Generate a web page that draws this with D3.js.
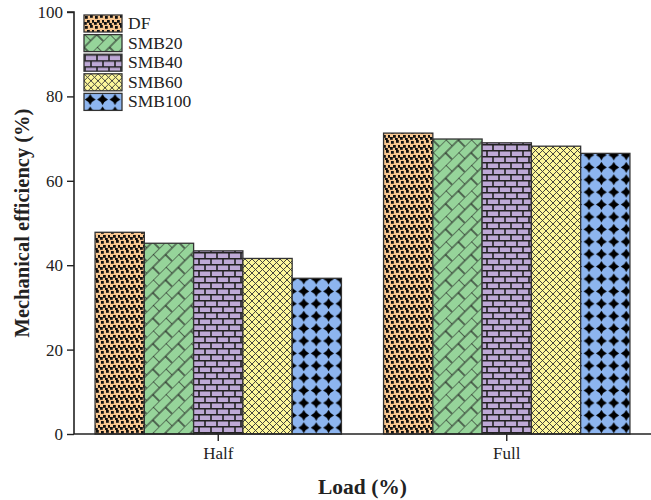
<!DOCTYPE html>
<html>
<head>
<meta charset="utf-8">
<script src="https://cdn.jsdelivr.net/npm/d3@7"></script>
<style>
  body { margin: 0; background: #fff; }
  text { font-family: "Liberation Serif", "Times New Roman", serif; fill: #222; }
</style>
</head>
<body>
<div id="chart"></div>
<script>
var width = 651;
var height = 500;
var margin = { top: 12, right: 0, bottom: 66, left: 74 };

// data
var loads = ["Half", "Full"];
var series = ["DF", "SMB20", "SMB40", "SMB60", "SMB100"];
var halfValues = [47.8, 45.2, 43.4, 41.6, 36.9];
var fullValues = [71.3, 69.9, 69.0, 68.2, 66.5];
var yTicks = [0, 20, 40, 60, 80, 100];

var fills = {
  DF: "#f8c68f",
  SMB20: "#96d49a",
  SMB40: "#bea9d6",
  SMB60: "#fdf79b",
  SMB100: "#8db5ef"
};

var rows = [];
loads.forEach((l, i) => {
  var vals = i == 0 ? halfValues : fullValues;
  series.forEach((s, j) => rows.push({ load: l, series: s, value: vals[j] }));
});

var svg = d3.select("#chart").append("svg")
  .attr("width", width)
  .attr("height", height);

var defs = svg.append("defs");

// DF: peach with little black squares
var pDF = defs.append("pattern").attr("id", "p-DF")
  .attr("patternUnits", "userSpaceOnUse").attr("width", 10).attr("height", 10);
pDF.append("rect").attr("width", 10).attr("height", 10).attr("fill", fills.DF);
[[1, 1], [6, 0], [3, 5], [8, 5], [0, 7], [5, 8]].forEach(p => {
  pDF.append("rect").attr("x", p[0]).attr("y", p[1])
    .attr("width", 2.8).attr("height", 2.8).attr("fill", "#111");
});

// SMB20: diagonal bricks
var p20 = defs.append("pattern").attr("id", "p-SMB20")
  .attr("patternUnits", "userSpaceOnUse").attr("width", 18).attr("height", 18)
  .attr("patternTransform", "rotate(-45)");
p20.append("rect").attr("width", 18).attr("height", 18).attr("fill", fills.SMB20);
p20.append("path")
  .attr("d", "M0,0H18M0,9H18M0,0V9M9,9V18")
  .attr("stroke", "#222").attr("stroke-width", 1.2).attr("fill", "none");

// SMB40: horizontal bricks
var p40 = defs.append("pattern").attr("id", "p-SMB40")
  .attr("patternUnits", "userSpaceOnUse").attr("width", 12).attr("height", 12);
p40.append("rect").attr("width", 12).attr("height", 12).attr("fill", fills.SMB40);
p40.append("path")
  .attr("d", "M0,0.75H12M0,6.75H12M1,0V6.75M7,6.75V12")
  .attr("stroke", "#222").attr("stroke-width", 1.6).attr("fill", "none");

// SMB60: crosshatch
var p60 = defs.append("pattern").attr("id", "p-SMB60")
  .attr("patternUnits", "userSpaceOnUse").attr("width", 7).attr("height", 7);
p60.append("rect").attr("width", 7).attr("height", 7).attr("fill", fills.SMB60);
p60.append("path")
  .attr("d", "M0,0L7,7M7,0L0,7")
  .attr("stroke", "#333").attr("stroke-width", 0.9).attr("fill", "none");

// SMB100: black concave diamonds on blue
var t = 12.4, h = 5.4, c = t / 2, k = 1.6;
var p100 = defs.append("pattern").attr("id", "p-SMB100")
  .attr("patternUnits", "userSpaceOnUse").attr("width", t).attr("height", t);
p100.append("rect").attr("width", t).attr("height", t).attr("fill", fills.SMB100);
p100.append("path")
  .attr("d", "M" + c + "," + (c - h) +
    "Q" + (c + k) + "," + (c - k) + " " + (c + h) + "," + c +
    "Q" + (c + k) + "," + (c + k) + " " + c + "," + (c + h) +
    "Q" + (c - k) + "," + (c + k) + " " + (c - h) + "," + c +
    "Q" + (c - k) + "," + (c - k) + " " + c + "," + (c - h) + "Z")
  .attr("fill", "#000");

var x0 = d3.scaleBand()
  .domain(loads)
  .range([margin.left, width - margin.right])
  .paddingInner(0.146)
  .paddingOuter(0.073);

var x1 = d3.scaleBand()
  .domain(series)
  .range([0, x0.bandwidth()]);

var y = d3.scaleLinear()
  .domain([0, 100])
  .range([height - margin.bottom, margin.top]);

// bars
svg.append("g")
  .selectAll("rect")
  .data(rows)
  .enter()
  .append("rect")
  .attr("x", d => x0(d.load) + x1(d.series))
  .attr("y", d => y(d.value))
  .attr("width", x1.bandwidth())
  .attr("height", d => y(0) - y(d.value))
  .attr("fill", d => "url(#p-" + d.series + ")")
  .attr("stroke", "#333")
  .attr("stroke-width", 1.3);

// axes
var yAxis = svg.append("g")
  .attr("transform", "translate(" + margin.left + ",0)")
  .call(d3.axisLeft(y).tickValues(yTicks).tickSize(7).tickPadding(4));

var xAxis = svg.append("g")
  .attr("transform", "translate(0," + y(0) + ")")
  .call(d3.axisBottom(x0).tickSize(7).tickPadding(6).tickSizeOuter(0));

[yAxis, xAxis].forEach(a => {
  a.select(".domain").attr("stroke", "#222").attr("stroke-width", 1.6);
  a.selectAll(".tick line").attr("stroke", "#222").attr("stroke-width", 1.4);
  a.selectAll("text")
    .attr("font-family", "Liberation Serif, Times New Roman, serif")
    .attr("font-size", 17)
    .attr("fill", "#333");
});
yAxis.select(".domain").attr("d", "M-7," + y(100) + "H0V" + y(0));
xAxis.select(".domain").attr("d", "M" + margin.left + ",0H" + width);

// axis titles
svg.append("text")
  .attr("x", (margin.left + width) / 2)
  .attr("y", 494)
  .attr("text-anchor", "middle")
  .attr("font-size", 21.5)
  .attr("font-weight", "bold")
  .text("Load (%)");

svg.append("text")
  .attr("transform", "translate(29," + (y(50)) + ") rotate(-90)")
  .attr("text-anchor", "middle")
  .attr("font-size", 20.5)
  .attr("font-weight", "bold")
  .text("Mechanical efficiency (%)");

// legend
var legend = svg.append("g")
  .selectAll("g")
  .data(series)
  .enter()
  .append("g")
  .attr("transform", (d, i) => "translate(84," + (15 + i * 19.6) + ")");

legend.append("rect")
  .attr("width", 38)
  .attr("height", 17)
  .attr("fill", d => "url(#p-" + d + ")")
  .attr("stroke", "#333")
  .attr("stroke-width", 1.3);

legend.append("text")
  .attr("x", 44)
  .attr("y", 14)
  .attr("font-size", 17.5)
  .text(d => d);
</script>
</body>
</html>
